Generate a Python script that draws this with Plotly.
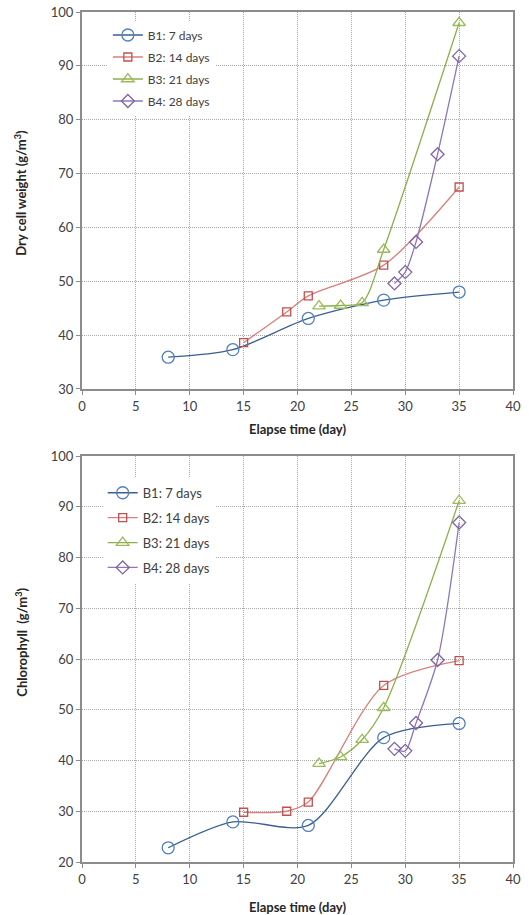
import plotly.graph_objects as go
from plotly.subplots import make_subplots

# ---- data ----
series_names = ["B1: 7 days", "B2: 14 days", "B3: 21 days", "B4: 28 days"]

b1_days = [8, 14, 21, 28, 35]
b2_days = [15, 19, 21, 28, 35]
b3_days = [22, 24, 26, 28, 35]
b4_days = [29, 30, 31, 33, 35]

dcw_b1 = [35.9, 37.3, 43.1, 46.5, 48.0]
dcw_b2 = [38.6, 44.3, 47.3, 53.0, 67.5]
dcw_b3 = [45.4, 45.5, 46.0, 55.9, 98.0]
dcw_b4 = [49.6, 51.7, 57.3, 73.6, 91.8]

chl_b1 = [22.8, 27.9, 27.2, 44.5, 47.3]
chl_b2 = [29.8, 30.0, 31.8, 54.8, 59.7]
chl_b3 = [39.4, 40.7, 44.1, 50.4, 91.2]
chl_b4 = [42.3, 41.9, 47.4, 59.8, 86.9]

x_ticks = [0, 5, 10, 15, 20, 25, 30, 35, 40]

colors = ["#4F81BD", "#C0504D", "#9BBB59", "#8064A2"]
line_colors = ["#3A5F93", "#D8807D", "#8CB04A", "#8C78B8"]
symbols = ["circle-open", "square-open", "triangle-up-open", "diamond-open"]
msizes = [12, 8, 11, 10]

FONT = "Lato, Open Sans, sans-serif"

fig = make_subplots(rows=2, cols=1)

days = [b1_days, b2_days, b3_days, b4_days]
top = [dcw_b1, dcw_b2, dcw_b3, dcw_b4]
bot = [chl_b1, chl_b2, chl_b3, chl_b4]

for i in range(4):
    for row, data, leg in ((1, top, "legend"), (2, bot, "legend2")):
        fig.add_trace(go.Scatter(
            x=days[i], y=data[i], name=series_names[i], mode="lines+markers",
            line=dict(color=line_colors[i], width=1.3, shape="spline", smoothing=0.8),
            marker=dict(symbol=symbols[i], size=msizes[i], color=colors[i],
                        line=dict(color=colors[i], width=1.3)),
            legend=leg, legendgroup=f"{leg}_{i}", showlegend=True,
        ), row=row, col=1)

axis_common = dict(
    showgrid=True, gridcolor="#A8A8A8", griddash="1px,1px", gridwidth=1,
    showline=True, linecolor="#8C8C8C", linewidth=2, mirror=True,
    ticks="outside", ticklen=4, tickcolor="#8C8C8C",
    tickfont=dict(family=FONT, size=13, color="#404040"),
    zeroline=False, automargin=False,
)
title_font = dict(family=FONT, size=13, color="#262626")

fig.update_xaxes(range=[0, 40], tickvals=x_ticks, row=1, col=1,
                 title=dict(text="<b>Elapse time (day)</b>", standoff=12, font=title_font),
                 **axis_common)
fig.update_xaxes(range=[0, 40], tickvals=x_ticks, row=2, col=1,
                 title=dict(text="<b>Elapse time (day)</b>", standoff=17, font=title_font),
                 **axis_common)
fig.update_yaxes(range=[30, 100], dtick=10, row=1, col=1, **axis_common)
fig.update_yaxes(range=[20, 100], dtick=10, row=2, col=1, **axis_common)

H = 915
fig.add_annotation(text="<b>Dry cell weight (g/m<sup>3</sup>)</b>", textangle=-90,
                   xref="paper", yref="paper", x=(20.7 - 82) / 431, y=(862 - 193) / 850,
                   xanchor="center", yanchor="middle", showarrow=False, font=title_font)
fig.add_annotation(text="<b>Chlorophyll  (g/m<sup>3</sup>)</b>", textangle=-90,
                   xref="paper", yref="paper", x=(20.7 - 82) / 431, y=(862 - 642) / 850,
                   xanchor="center", yanchor="middle", showarrow=False, font=title_font)

fig.update_layout(
    width=529, height=H,
    margin=dict(l=82, r=16, t=12, b=53, autoexpand=False),
    plot_bgcolor="white", paper_bgcolor="white",
    xaxis=dict(domain=[0, 1], anchor="y"),
    yaxis=dict(domain=[0.5565, 1.0]),
    xaxis2=dict(domain=[0, 1], anchor="y2"),
    yaxis2=dict(domain=[0.0, 0.4776]),
    legend=dict(x=0.06, y=0.99, xanchor="left", yanchor="top",
                bgcolor="white", font=dict(family=FONT, size=12, color="#404040"),
                itemwidth=30, traceorder="grouped", tracegroupgap=3),
    legend2=dict(x=0.048, y=0.452, xanchor="left", yanchor="top",
                 bgcolor="white", font=dict(family=FONT, size=13, color="#404040"),
                 itemwidth=30, traceorder="grouped", tracegroupgap=5),
)

fig.write_html(
    "out.html",
    config={"displayModeBar": False},
    post_script="document.body.style.margin='0';document.body.style.overflow='hidden';",
)
